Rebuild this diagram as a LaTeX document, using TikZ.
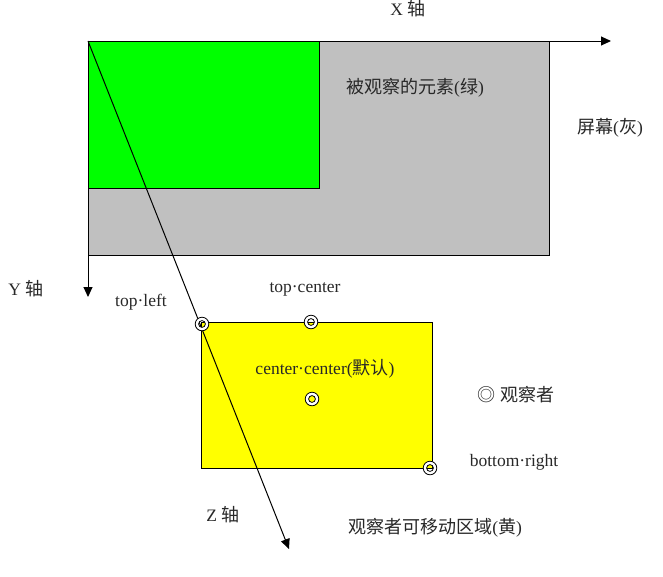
\documentclass[tikz,border=0pt]{standalone}
\usepackage{fontspec}
\setmainfont{Liberation Serif}
\newfontfamily\cjk[Scale=1.03]{Noto Sans CJK SC}
\usetikzlibrary{arrows.meta}
\definecolor{screengray}{RGB}{192,192,192}
\definecolor{elemgreen}{RGB}{0,255,0}
\definecolor{areayellow}{RGB}{255,255,0}
\definecolor{txtgray}{RGB}{40,40,40}
\tikzset{
  axis/.style={draw=black, line width=1pt, -{Triangle[length=10pt,width=9pt]}},
  box/.style={draw=black, line width=1pt},
  lbl/.style={font=\fontsize{17.5}{19}\selectfont, text=txtgray, inner sep=0pt},
  observer/.pic={
    \fill[white,even odd rule] (0,0) circle (6.8) (0,0) circle (3.4);
    \draw[black,line width=0.8pt] (0,0) circle (6.8) (0,0) circle (3.4);
  }
}
\begin{document}
\begin{tikzpicture}[x=1pt,y=-1pt]
\useasboundingbox[fill=white] (0,0) rectangle (663,576);
% coordinates
\coordinate (O) at (88,41);
\coordinate (Xend) at (611,41);
\coordinate (Yend) at (88,297);
\coordinate (Zend) at (289,549);
% screen and element
\draw[box, fill=screengray] (88,41) rectangle (549,255);
\draw[box, fill=elemgreen] (88,41) rectangle (319,188);
% movable area
\draw[box, fill=areayellow] (201,322) rectangle (432,468);
% axes
\draw[axis] (O) -- (Xend);
\draw[axis] (O) -- (Yend);
\draw[axis] (O) -- (Zend);
% observers
\pic at (202,324) {observer};
\pic at (311,322) {observer};
\pic at (312,399) {observer};
\pic at (430,468) {observer};
% labels
\node[lbl] (xl) at (408,9) {X {\cjk 轴}};
\node[lbl] (el) at (415,88) {{\cjk 被观察的元素}({\cjk 绿})};
\node[lbl] (sl) at (610,128) {{\cjk 屏幕}({\cjk 灰})};
\node[lbl] (yl) at (26,289) {Y {\cjk 轴}};
\node[lbl] (tl) at (141,302) {top·left};
\node[lbl] (tc) at (305,289) {top·center};
\node[lbl] (cc) at (325,369) {center·center({\cjk 默认})};
\node[lbl] (ob) at (516,395) {{\cjk ◎ 观察者}};
\node[lbl] (br) at (514,462) {bottom·right};
\node[lbl] (zl) at (223,515) {Z {\cjk 轴}};
\node[lbl] (al) at (435,528) {{\cjk 观察者可移动区域}({\cjk 黄})};
\end{tikzpicture}
\end{document}
